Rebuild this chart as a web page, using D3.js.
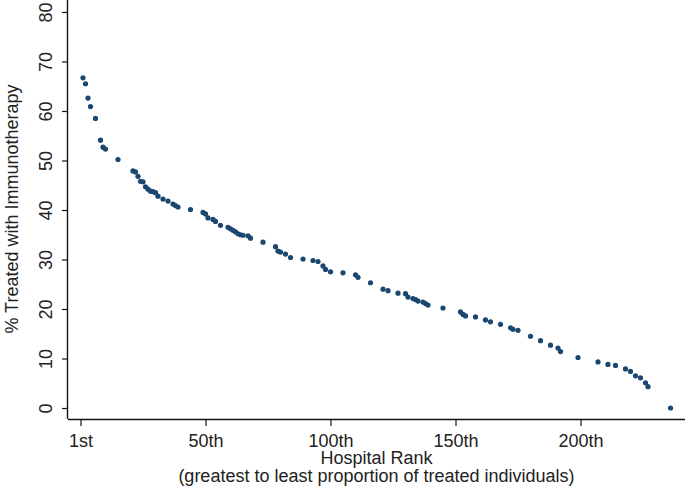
<!DOCTYPE html>
<html>
<head>
    <title>Hospital rank vs % treated with immunotherapy</title>
    <script src="https://cdnjs.cloudflare.com/ajax/libs/d3/7.8.5/d3.min.js"></script>
    <style>
    body{
        margin: 0;
        background: #fff;
    }
    svg text{
        font-family: Arial, "Liberation Sans", sans-serif;
        fill: #222;
    }
    </style>
</head>
<body>
    <svg width="685" height="487"></svg>
    <script>
        // hospital rank (x) and % treated (y)
        var ranks = [1, 2, 3, 4, 6, 8, 9, 10, 15, 21, 22, 23, 24, 25, 26, 27, 28, 29, 30, 31,
                     33, 35, 37, 38, 39, 44, 49, 50, 51, 53, 54, 56, 59, 60, 61, 62, 63, 64, 65, 67,
                     68, 73, 78, 79, 80, 82, 84, 89, 93, 95, 97, 98, 100, 105, 110, 111, 116, 121, 123, 127,
                     130, 131, 133, 134, 135, 137, 138, 139, 145, 152, 153, 154, 158, 162, 164, 168, 172, 173, 175, 180,
                     184, 188, 191, 192, 199, 207, 211, 214, 218, 220, 222, 224, 226, 227, 236];
        var pcts = [66.7, 65.5, 62.6, 60.9, 58.5, 54.1, 52.7, 52.3, 50.2, 47.9, 47.7, 46.8, 45.8, 45.7, 44.7, 44.2, 43.8, 43.7, 43.5, 42.8,
                    42.2, 41.8, 41.2, 40.9, 40.6, 40.1, 39.5, 39.2, 38.4, 38.1, 37.7, 36.9, 36.5, 36.2, 35.9, 35.6, 35.2, 35.0, 34.9, 34.8,
                    34.3, 33.5, 32.6, 31.7, 31.5, 31.1, 30.4, 30.1, 29.8, 29.6, 28.7, 28.0, 27.5, 27.3, 26.9, 26.4, 25.3, 24.0, 23.7, 23.2,
                    23.1, 22.4, 22.1, 21.9, 21.6, 21.4, 21.1, 20.8, 20.2, 19.4, 18.9, 18.6, 18.4, 17.8, 17.4, 16.9, 16.2, 15.9, 15.7, 14.5,
                    13.6, 12.7, 12.1, 11.4, 10.2, 9.3, 8.8, 8.6, 7.9, 7.4, 6.5, 6.1, 5.1, 4.3, 0];
        var x_ticks = [0, 50, 100, 150, 200];
        var x_tick_labels = ["1st", "50th", "100th", "150th", "200th"];
        var y_ticks = [0, 10, 20, 30, 40, 50, 60, 70, 80];

        var data = ranks.map(function(r, i){
            return {rank: r, pct: pcts[i]};
        });

        var svg = d3.select("svg");
        var width = +svg.attr("width");
        var plot_l = 68, plot_b = 419, plot_t = 0;

        var x = d3.scaleLinear()
                    .domain([-5, 241.8])
                    .range([plot_l, width]);
        var y = d3.scaleLinear()
                    .domain([-2.22, 82.42])
                    .range([plot_b, plot_t]);

        var xAxis = svg.append("g")
            .attr("transform", "translate(0," + plot_b + ")")
            .call(d3.axisBottom(x)
                .tickValues(x_ticks)
                .tickSize(7)
                .tickPadding(0)
                .tickFormat(function(d, i){ return x_tick_labels[i]; }));
        xAxis.select(".domain").attr("d", "M" + plot_l + ",0.5H" + width)
            .attr("stroke", "#111").attr("stroke-width", 1.4);
        xAxis.selectAll(".tick line").attr("stroke", "#111").attr("stroke-width", 1.2);
        xAxis.selectAll(".tick text")
            .attr("y", 28)
            .attr("dy", null)
            .style("font-size", "18px");

        var yAxis = svg.append("g")
            .attr("transform", "translate(" + plot_l + ",0)")
            .call(d3.axisLeft(y)
                .tickValues(y_ticks)
                .tickSize(6));
        yAxis.select(".domain").attr("d", "M-0.5," + plot_t + "V" + plot_b)
            .attr("stroke", "#111").attr("stroke-width", 1.4);
        yAxis.selectAll(".tick line").attr("stroke", "#111").attr("stroke-width", 1.2);
        yAxis.selectAll(".tick text")
            .attr("x", null)
            .attr("dy", null)
            .attr("text-anchor", "middle")
            .attr("transform", "translate(-16,0) rotate(-90)")
            .style("font-size", "18px");

        // axis titles
        svg.append("text")
            .attr("transform", "translate(17.5,209) rotate(-90)")
            .attr("text-anchor", "middle")
            .style("font-size", "18px")
            .text("% Treated with Immunotherapy");
        svg.append("text")
            .attr("x", 376.5)
            .attr("y", 464)
            .attr("text-anchor", "middle")
            .style("font-size", "18px")
            .text("Hospital Rank");
        svg.append("text")
            .attr("x", 376.5)
            .attr("y", 482)
            .attr("text-anchor", "middle")
            .style("font-size", "18px")
            .text("(greatest to least proportion of treated individuals)");

        svg.append("g")
            .selectAll("circle.pt")
            .data(data)
            .enter()
            .append("circle")
            .attr("class", "pt")
            .attr("cx", function(d){ return x(d.rank); })
            .attr("cy", function(d){ return y(d.pct); })
            .attr("r", 2.6)
            .attr("fill", "#1a476f");
    </script>
</body>
</html>
